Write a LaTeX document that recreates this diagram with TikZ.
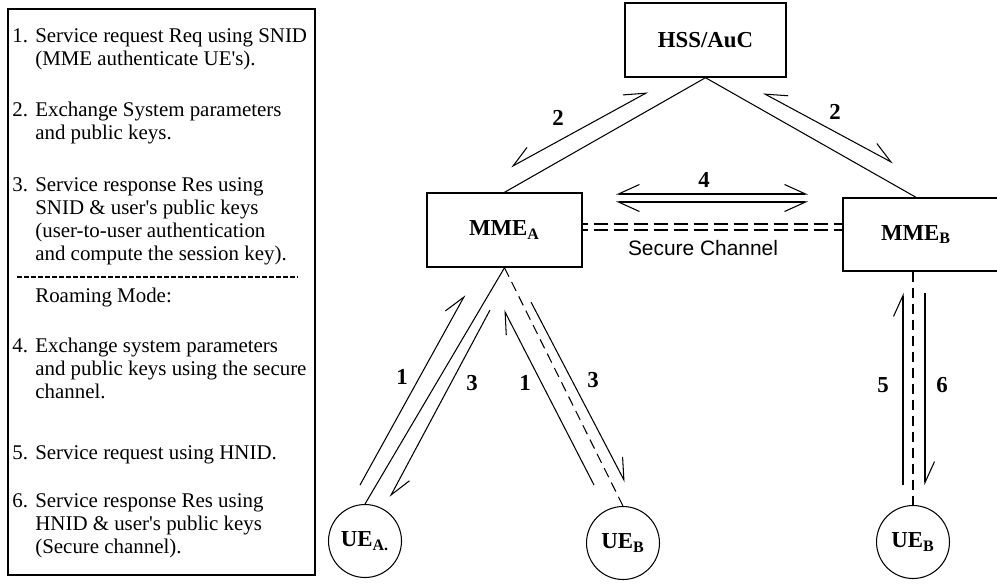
\documentclass[tikz,border=0pt]{standalone}
\usepackage{fontspec}
\setmainfont{Liberation Serif}[Ligatures=TeXOff]
\newfontfamily\chanfont{Liberation Sans}
\usetikzlibrary{positioning, arrows.meta, calc}

\newcommand{\notefont}{\fontsize{11.9}{13.04}\selectfont}
\newcommand{\labelfont}{\fontsize{13}{14}\selectfont\bfseries}
\newcommand{\notenum}[1]{\makebox[0.46cm][l]{#1}}
\newcommand{\noteind}{\hspace*{0.46cm}}

\tikzset{
  barb/.tip={Straight Barb[length=0.42cm, width=0.38cm]},
  box/.style={draw, line width=0.8pt, rectangle, inner sep=0pt, font=\labelfont},
  ue/.style={draw, line width=0.6pt, circle, minimum size=1.46cm, inner sep=0pt, font=\labelfont},
  % base = baseline of the last line
  note/.style={anchor=base west, inner sep=0pt, align=left, font=\notefont},
  num/.style={inner sep=1pt, font=\labelfont},
  link/.style={line width=0.6pt},
  radio/.style={line width=0.6pt, dash pattern=on 0.2cm off 0.12cm},
  chan/.style={line width=0.6pt, dash pattern=on 0.28cm off 0.12cm, dash phase=0.18cm},
  twoL/.style={line width=0.6pt, {barb[right]}-{barb[left]}},
  twoR/.style={line width=0.6pt, {barb[left]}-{barb[right]}},
  oneL/.style={line width=0.6pt, -{barb[left]}}
}

\begin{document}
\begin{tikzpicture}[x=0.02cm, y=-0.02cm]
  \clip (0,0) rectangle (997,583);

  % Legend
  \node[draw, line width=0.8pt, minimum width=6.14cm, minimum height=11.32cm, inner sep=0pt] (legend) at (161.5,292) {};
  \node[note] (note1) at (12,65) {\notenum{1.}Service request Req using SNID\\\noteind(MME authenticate UE's).};
  \node[note] (note2) at (12,139) {\notenum{2.}Exchange System parameters\\\noteind and public keys.};
  \node[note] (note3) at (12,260) {\notenum{3.}Service response Res using\\\noteind SNID \& user's public keys\\\noteind(user-to-user authentication\\\noteind and compute the session key).};
  \draw[line width=0.8pt, dash pattern=on 0.11cm off 0.03cm] (17,277) -- (297,277);
  \node[note] (roam) at (12,302) {\noteind Roaming Mode:};
  \node[note] (note4) at (12,398) {\notenum{4.}Exchange system parameters\\\noteind and public keys using the secure\\\noteind channel.};
  \node[note] (note5) at (12,459) {\notenum{5.}Service request using HNID.};
  \node[note] (note6) at (12,553) {\notenum{6.}Service response Res using\\\noteind HNID \& user's public keys\\\noteind(Secure channel).};

  % Network entities
  \node[box, minimum width=3.22cm, minimum height=1.48cm] (hss) at (705.5,40) {HSS/AuC};
  \node[box, minimum width=3.1cm, minimum height=1.48cm] (mmeA) at (504.5,230) {MME\textsubscript{A}};
  \node[box, minimum width=3.2cm, minimum height=1.46cm] (mmeB) at (923,234.5) {MME\textsubscript{B}\hspace*{7.9pt}};
  \node[ue] (ueA) at (365,541) {UE\textsubscript{A.}};
  \node[ue] (ueB) at (623,543) {UE\textsubscript{B}};
  \node[ue] (ueR) at (913,542) {UE\textsubscript{B}};

  % Links
  \draw[link] (hss.south) -- (mmeA.north);
  \draw[link] (hss.south) -- ([xshift=-0.14cm]mmeB.north);
  \draw[link] (mmeA.south) -- (ueA.north);
  \draw[radio] (mmeA.south) -- (ueB.north);
  \draw[radio] (mmeB.south -| ueR.north) -- (ueR.north);

  % Secure channel
  \coordinate (chan1) at ([yshift=0.12cm]mmeA.east);
  \draw[chan] (chan1) -- (chan1 -| mmeB.west);
  \draw[chan] (mmeA.east) -- (mmeA.east -| mmeB.west);
  \node[font=\chanfont\fontsize{11.9}{13}\selectfont, inner sep=0pt] (chanlbl) at (703,248) {Secure Channel};

  % Message arrows
  \coordinate (m2a) at (511,167);  \coordinate (m2b) at (648,92);
  \coordinate (m2c) at (763,93);   \coordinate (m2d) at (893,163);
  \coordinate (m4a) at (616,194);  \coordinate (m4b) at (808,194);
  \coordinate (m4c) at (616,202);  \coordinate (m4d) at (808,202);
  \coordinate (m1a) at (360,485);  \coordinate (m1b) at (465,295);
  \coordinate (m3a) at (490,310);  \coordinate (m3b) at (390,497);
  \coordinate (m1c) at (594,485);  \coordinate (m1d) at (504,310);
  \coordinate (m3c) at (531,302);  \coordinate (m3d) at (625,482);
  \coordinate (m5a) at (903,485);  \coordinate (m5b) at (903,293);
  \coordinate (m6a) at (925,293);  \coordinate (m6b) at (925,485);
  \draw[twoL] (m2a) -- (m2b);
  \draw[twoL] (m2c) -- (m2d);
  \draw[twoL] (m4a) -- (m4b);
  \draw[twoR] (m4c) -- (m4d);
  \draw[oneL] (m1a) -- (m1b);
  \draw[oneL] (m3a) -- (m3b);
  \draw[oneL] (m1c) -- (m1d);
  \draw[oneL] (m3c) -- (m3d);
  \draw[oneL] (m5a) -- (m5b);
  \draw[oneL] (m6a) -- (m6b);

  % Step numbers
  \node[num] (n2a) at (558,118) {2};
  \node[num] (n2b) at (835,112) {2};
  \node[num] (n4) at (704,180) {4};
  \node[num] (n1a) at (402,377) {1};
  \node[num] (n3a) at (472,383) {3};
  \node[num] (n1b) at (525,383) {1};
  \node[num] (n3b) at (593,380) {3};
  \node[num] (n5) at (883,385) {5};
  \node[num] (n6) at (942,385) {6};
\end{tikzpicture}
\end{document}
